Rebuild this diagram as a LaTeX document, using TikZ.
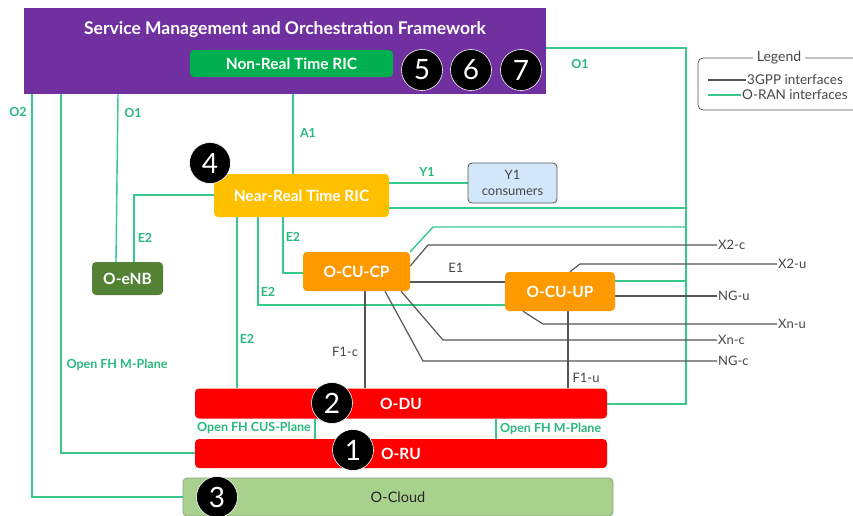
\documentclass[tikz,border=0pt]{standalone}
\usepackage{fontspec}
\setmainfont{Lato}
\usetikzlibrary{backgrounds}
\definecolor{smoC}{RGB}{112,48,160}
\definecolor{nrtC}{RGB}{0,176,80}
\definecolor{nearC}{RGB}{255,192,0}
\definecolor{enbC}{RGB}{84,130,53}
\definecolor{cuC}{RGB}{255,153,0}
\definecolor{redC}{RGB}{255,0,0}
\definecolor{cloudC}{RGB}{169,209,142}
\definecolor{cloudB}{RGB}{140,160,130}
\definecolor{yoneC}{RGB}{210,232,250}
\definecolor{oranL}{RGB}{55,200,140}
\definecolor{oranT}{RGB}{40,185,125}
\definecolor{grayL}{RGB}{85,85,85}
\definecolor{grayT}{RGB}{70,70,70}
\begin{document}
\begin{tikzpicture}[x=1pt,y=-1pt,
  box/.style={rounded corners=4pt, inner sep=0pt, align=center, text=white,
    font=\fontsize{15.5}{17}\selectfont\bfseries},
  oran/.style={draw=oranL, line width=1.4pt},
  tgpp/.style={draw=grayL, line width=1.2pt},
  lab/.style={text=oranT, font=\fontsize{12.5}{14}\selectfont\bfseries, inner sep=1pt},
  glab/.style={text=grayT, font=\fontsize{13}{15}\selectfont, inner sep=1pt},
  num/.style={circle, fill=black, draw=white, line width=0.6pt, minimum size=41pt,
    inner sep=0pt, text=white, font=\fontsize{28}{28}\selectfont}
]
\useasboundingbox (0,0) rectangle (853,515);
\clip (0,0) rectangle (853,515);

% ---------- nodes ----------
\node[fill=smoC, minimum width=522pt, minimum height=86pt, inner sep=0pt] (smo) at (285,51) {};
\node[text=white, font=\fontsize{17.5}{19}\selectfont\bfseries] (smotitle) at (285,30) {Service Management and Orchestration Framework};
\node[box, fill=nrtC, minimum width=203pt, minimum height=27pt] (nonrt) at (291.5,63.5) {Non-Real Time RIC};
\node[num] (n5) at (422,70) {5};
\node[num] (n6) at (471,70) {6};
\node[num] (n7) at (521,70) {7};

\node[box, fill=nearC, minimum width=175pt, minimum height=43pt] (nearrt) at (301.5,195.5) {Near-Real Time RIC};
\node[num] (n4) at (210,163) {4};

\node[box, fill=yoneC, draw=grayL, line width=0.8pt, text=grayT, font=\fontsize{13}{16}\selectfont,
  minimum width=89pt, minimum height=40pt] (yc) at (512.5,183) {Y1\\consumers};

\node[box, fill=enbC, minimum width=71pt, minimum height=33pt] (enb) at (127.5,278.5) {O-eNB};
\node[box, fill=cuC, minimum width=107pt, minimum height=39pt] (cucp) at (356.5,271.5) {O-CU-CP};
\node[box, fill=cuC, minimum width=110pt, minimum height=39pt] (cuup) at (560,291.5) {O-CU-UP};

\node[box, fill=redC, minimum width=412pt, minimum height=30pt] (odu) at (401,403.5) {O-DU};
\node[box, fill=redC, minimum width=412pt, minimum height=29pt] (oru) at (401,453.5) {O-RU};
\node[num] (n2) at (332,403) {2};
\node[num] (n1) at (353,450) {1};
\node[box, fill=cloudC, draw=cloudB, line width=0.8pt, text=black!85, font=\fontsize{14.5}{17}\selectfont,
  minimum width=430pt, minimum height=38pt] (ocloud) at (398,497) {O-Cloud};
\node[num] (n3) at (217,497) {3};

% end labels of 3GPP interfaces
\node[glab, anchor=west] (x2c) at (717,245) {X2-c};
\node[glab, anchor=west] (x2u) at (777,264) {X2-u};
\node[glab, anchor=west] (ngu) at (717,296) {NG-u};
\node[glab, anchor=west] (xnu) at (777,324) {Xn-u};
\node[glab, anchor=west] (xnc) at (717,340) {Xn-c};
\node[glab, anchor=west] (ngc) at (717,361) {NG-c};

\coordinate (busT) at (686,48);
\coordinate (busB) at (686,404);

% ---------- connectors ----------
\begin{pgfonlayer}{background}
% O-RAN (green)
\draw[oran] (smo.east |- busT) -- (busT) -- (busB) -- (odu.east |- busB);
\draw[oran] (nearrt.east |- 0,208) -- (busT |- 0,208);
\draw[oran] (cucp.north east) -- (433,227) -- (busT |- 0,227);
\draw[oran] (cuup.east |- 0,281) -- (busT |- 0,281);
\draw[oran] (nearrt.east |- 0,183) -- (yc.west |- 0,183);
\draw[oran] (nonrt.south -| 293,0) -- (nearrt.north -| 293,0);
\draw[oran] (smo.south -| 118,0) -- (enb.north -| 116,0);
\draw[oran] (smo.south -| 32,0) |- (ocloud.west |- 0,497);
\draw[oran] (smo.south -| 61,0) |- (oru.west |- 0,453);
\draw[oran] (nearrt.west |- 0,195) -| (enb.north -| 134,0);
\draw[oran] (nearrt.south -| 283,0) |- (cucp.west |- 0,273);
\draw[oran] (nearrt.south -| 258,0) |- (cuup.west |- 0,305);
\draw[oran] (nearrt.south -| 237,0) -- (odu.north -| 237,0);
\draw[oran] (odu.south -| 315,0) -- (oru.north -| 315,0);
\draw[oran] (odu.south -| 496,0) -- (oru.north -| 496,0);
% 3GPP (gray)
\draw[tgpp] (cucp.east |- 0,282) -- (cuup.west |- 0,282);
\draw[tgpp] (cucp.east |- 0,266) -- (428,245) -- (x2c.west);
\draw[tgpp] (cuup.north -| 570,0) -- (580,264) -- (x2u.west);
\draw[tgpp] (cuup.east |- 0,296) -- (ngu.west);
\draw[tgpp] (cuup.south -| 523,0) -- (543,324) -- (xnu.west);
\draw[tgpp] (cucp.south -| 401,0) -- (443,340) -- (xnc.west);
\draw[tgpp] (cucp.south -| 385,0) -- (423,361) -- (ngc.west);
\draw[tgpp] (cucp.south -| 365,0) -- (odu.north -| 365,0);
\draw[tgpp] (cuup.south -| 568,0) -- (odu.north -| 568,0);
\end{pgfonlayer}

% ---------- connector labels ----------
\node[lab] (lo1r) at (580,64) {O1};
\node[lab] (lo2) at (18,112) {O2};
\node[lab] (lo1l) at (133,113) {O1};
\node[lab] (la1) at (308,133) {A1};
\node[lab] (ly1) at (427,172) {Y1};
\node[lab] (le2a) at (145,238) {E2};
\node[lab] (le2b) at (293,237) {E2};
\node[lab] (le2c) at (268,292) {E2};
\node[lab] (le2d) at (247,339) {E2};
\node[lab] (lmp1) at (117,365) {Open FH M-Plane};
\node[lab, anchor=east] (lcus) at (312,428) {Open FH CUS-Plane};
\node[lab, anchor=west] (lmp2) at (499,429) {Open FH M-Plane};
\node[glab] (le1) at (456,268) {E1};
\node[glab] (lf1c) at (345,352) {F1-c};
\node[glab] (lf1u) at (586,378) {F1-u};

% ---------- legend ----------
\draw[grayL, line width=0.8pt, rounded corners=5pt] (698,58) rectangle (870,110);
\node[fill=white, inner sep=4pt, text=grayT, font=\fontsize{14}{16}\selectfont] (legt) at (779,58) {Legend};
\coordinate (lg1a) at (708,80);
\coordinate (lg2a) at (708,95);
\node[anchor=west, inner sep=1pt, text=grayT, font=\fontsize{13.5}{15}\selectfont] (lg1) at (746,80) {3GPP interfaces};
\node[anchor=west, inner sep=1pt, text=grayT, font=\fontsize{13.5}{15}\selectfont] (lg2) at (741,95) {O-RAN interfaces};
\draw[tgpp] (lg1a) -- (lg1.west);
\draw[oran] (lg2a) -- (lg2.west);
\end{tikzpicture}
\end{document}
